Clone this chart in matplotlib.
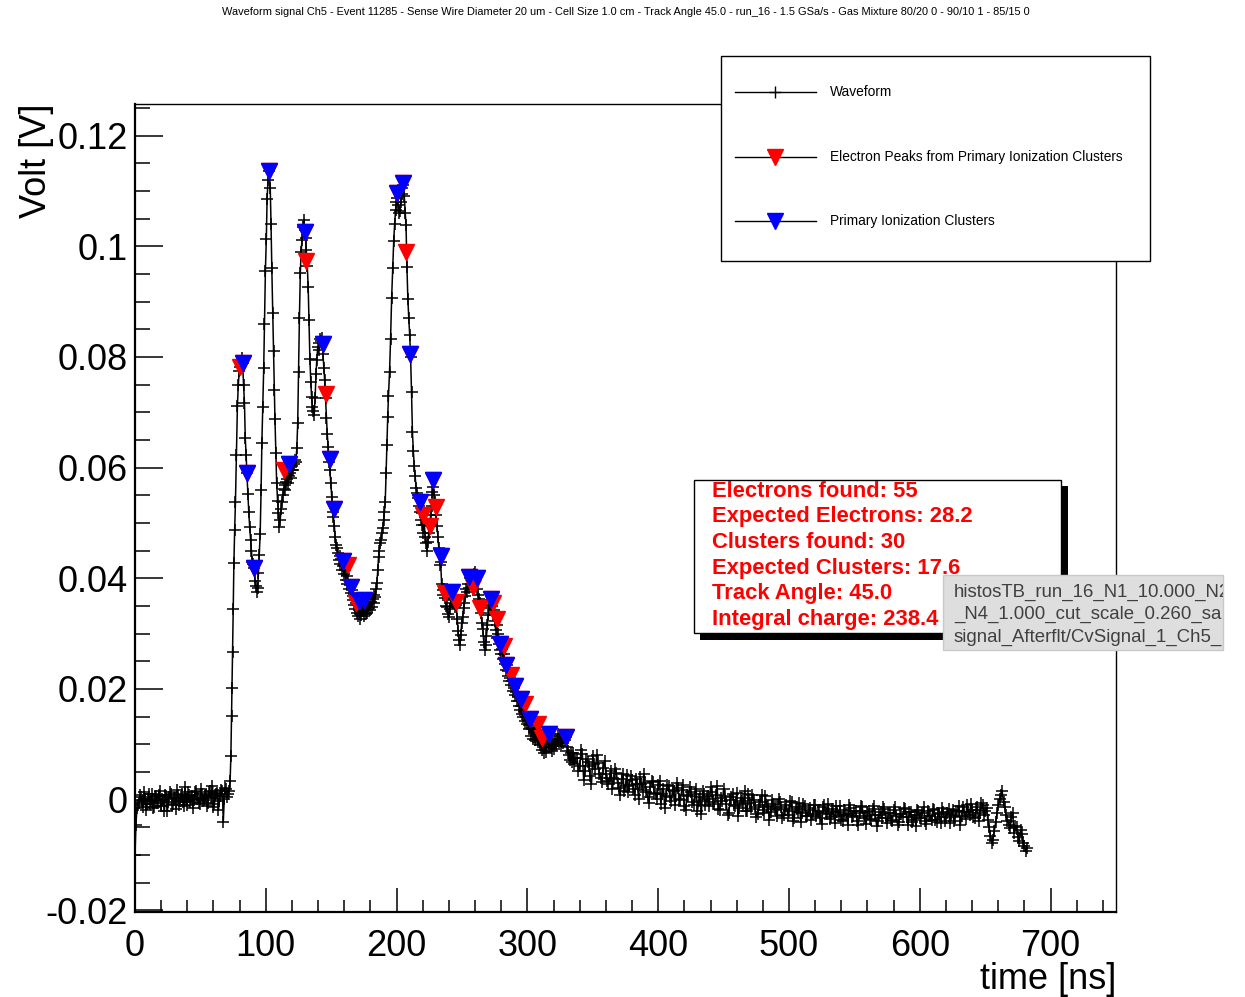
import matplotlib
matplotlib.use("Agg")
import matplotlib.pyplot as plt
import numpy as np
from matplotlib.lines import Line2D
from matplotlib.patches import Rectangle
from matplotlib.ticker import MultipleLocator, FuncFormatter

plt.rcParams["font.family"] = ["Liberation Sans", "DejaVu Sans"]

TITLE = ("Waveform signal Ch5 - Event 11285 - Sense Wire Diameter 20 um - Cell Size 1.0 cm - "
         "Track Angle 45.0 - run_16 - 1.5 GSa/s - Gas Mixture 80/20 0 - 90/10 1 - 85/15 0")

# pre-trigger baseline (mV), first two samples at 0 and 0.7 ns, then every 1.5 ns
base_v = [-10.0, -4.5, -1.5, -0.6, 0.4, -1.3, 0.2, -0.8, 1.1, -0.2, -1.5, 0.5, -0.6, 0.9,
          -1.1, 0.1, -2.0, 0.6, -0.4, 1.3, -0.9, 0.3, -1.7, 0.8, -0.3, 1.0, -1.2, 0.2, 1.4,
          -0.5, 0.7, -0.1, 1.6, 0.3, -0.8, 1.1, 0.0, 0.9, -0.6, 1.5, 0.4, -1.4, 0.8, 1.2,
          -0.2, 1.7, -4.0, 2.1, 0.5]
# baseline samples in between, from 2.25 ns every 1.5 ns
base_mid_v = [-1.0, 0.9, -0.3, 1.4, -1.8, 0.2, -0.7, 1.0, -1.4, 0.6,
              -0.2, 1.5, -1.2, -0.1, 0.8, -2.1, 0.4, 1.1, -0.8, 0.3,
              1.7, -1.0, 0.5, -0.4, 2.2, -0.9, 0.9, 0.1, -1.5, 1.3,
              0.2, -0.6, 1.9, -0.3, 0.6, -1.1, 1.4, 0.3, 2.4, -0.7,
              1.0, -1.8, 0.7, 1.6, 0.2, 2.0, 1.1]

# pulse train (time ns, amplitude mV)
pulse = [
    (72.0, 1.5), (72.7, 3.3), (73.3, 7.8), (73.8, 15.1), (74.2, 20.2), (74.6, 26.6),
    (75.1, 34.5), (75.6, 42.7), (76.2, 48.8), (76.8, 53.8), (77.5, 62.2), (78.3, 71.2),
    (79.0, 75.0), (79.7, 77.5), (80.3, 78.2), (81.0, 79.2), (81.7, 79.8), (82.3, 78.9),
    (83.0, 74.9), (83.7, 71.7), (84.3, 65.3), (85.0, 62.2), (85.5, 59.1), (86.3, 55.3),
    (87.0, 51.9), (87.7, 49.2), (88.4, 46.9), (89.0, 45.0), (89.7, 43.0), (90.4, 42.5),
    (91.0, 41.9), (91.7, 39.5), (92.4, 38.6), (93.0, 37.6), (93.7, 38.2), (94.4, 41.0),
    (95.0, 44.2), (95.7, 48.0), (96.4, 56.0), (97.0, 64.5), (97.7, 71.0), (98.4, 78.0),
    (99.0, 86.0), (99.7, 95.6), (100.4, 101.3), (101.0, 108.6), (101.7, 112.0),
    (102.7, 113.6), (103.4, 110.5), (104.0, 104.0), (104.6, 96.0), (105.3, 88.0),
    (105.9, 81.0), (106.5, 74.0), (107.0, 68.8), (107.7, 62.6), (108.3, 57.3),
    (109.0, 54.0), (109.7, 51.8), (110.3, 49.3), (111.0, 50.5), (111.7, 52.5),
    (112.4, 53.8), (113.0, 55.0), (113.7, 56.1), (114.4, 56.8), (115.0, 56.0),
    (115.7, 57.4), (116.4, 58.0), (117.0, 57.2), (117.7, 58.4), (118.4, 59.0),
    (119.0, 58.2), (119.7, 59.6), (120.4, 60.2), (121.0, 59.5), (121.7, 60.7),
    (122.4, 61.3), (123.0, 61.0), (123.7, 63.5), (124.4, 68.1), (125.0, 77.3),
    (125.7, 87.1), (126.4, 95.2), (127.0, 99.0), (127.7, 101.1), (128.4, 103.5),
    (129.0, 104.8), (129.7, 103.0), (130.4, 101.5), (131.0, 99.3), (131.7, 96.5),
    (132.4, 92.7), (133.0, 86.6), (133.7, 79.7), (134.4, 75.5), (135.0, 72.8),
    (135.7, 71.0), (136.4, 70.2), (137.0, 69.5), (137.7, 72.5), (138.4, 77.0),
    (139.0, 79.5), (139.7, 81.8), (140.4, 81.2), (141.0, 82.6), (141.7, 83.3),
    (142.4, 82.8), (143.0, 83.5), (143.7, 80.5), (144.4, 78.0), (145.0, 75.8),
    (145.7, 72.5), (146.4, 68.9), (147.0, 66.0), (147.7, 63.8), (148.4, 61.0),
    (149.0, 59.6), (149.7, 57.2), (150.4, 54.7), (151.0, 52.0), (151.7, 51.1),
    (152.4, 49.5), (153.0, 47.5), (153.7, 46.0), (154.4, 45.4), (155.0, 44.6),
    (155.7, 43.3), (156.4, 44.0), (157.0, 42.6), (157.7, 43.5), (158.4, 41.5),
    (159.0, 42.2), (159.7, 40.8), (160.4, 41.5), (161.0, 39.7), (161.7, 40.4),
    (162.4, 39.0), (163.0, 39.6), (163.7, 38.0), (164.4, 38.8), (165.0, 37.3),
    (165.7, 37.9), (166.4, 36.1), (167.0, 36.8), (167.7, 35.2), (168.4, 34.5),
    (169.0, 35.6), (169.7, 33.8), (170.4, 33.1), (171.0, 34.4), (171.7, 32.6),
    (172.4, 34.0), (173.0, 33.3), (173.7, 35.0), (174.4, 34.0), (175.0, 33.2),
    (175.7, 34.6), (176.4, 33.5), (177.0, 34.8), (177.7, 33.7), (178.4, 34.5),
    (179.0, 35.5), (179.7, 34.2), (180.4, 35.8), (181.0, 34.9), (181.7, 36.2),
    (182.4, 35.5), (183.0, 37.0), (183.6, 36.7), (184.3, 38.0), (184.9, 39.1),
    (185.6, 41.5), (186.2, 43.9), (186.8, 45.0), (187.4, 46.3), (188.1, 47.0),
    (188.7, 48.1), (189.4, 49.0), (190.0, 50.5), (190.7, 52.0), (191.3, 53.7),
    (192.0, 59.0), (192.6, 64.1), (193.2, 69.2), (193.8, 73.0), (194.6, 77.3),
    (195.4, 83.3), (196.2, 90.6), (197.0, 96.0), (197.8, 101.0), (198.5, 104.0),
    (199.2, 106.5), (199.9, 108.0), (200.5, 108.8), (201.2, 107.5), (201.9, 106.0),
    (202.5, 106.3), (203.2, 108.0), (203.9, 109.5), (204.5, 110.5), (205.2, 111.0),
    (205.9, 109.0), (206.6, 106.0), (207.2, 103.8), (207.9, 96.3), (208.6, 90.5),
    (209.3, 87.0), (210.0, 84.0), (210.7, 80.0), (211.4, 73.7), (212.1, 66.5),
    (212.8, 63.0), (213.5, 60.2), (214.2, 58.4), (214.9, 56.3), (215.6, 55.5),
    (216.3, 54.5), (217.0, 53.0), (217.7, 52.0), (218.4, 50.6), (219.1, 51.8),
    (219.8, 49.6), (220.5, 48.2), (221.2, 49.6), (221.9, 47.5), (222.6, 46.4),
    (223.3, 45.0), (223.9, 46.5), (224.6, 48.2), (225.3, 49.5), (226.0, 51.4),
    (226.7, 53.0), (227.4, 55.6), (228.1, 56.5), (228.8, 55.0), (229.5, 53.8),
    (230.2, 51.4), (230.9, 49.5), (231.6, 47.5), (232.3, 45.4), (233.0, 42.4),
    (233.7, 43.0), (234.4, 39.0), (235.1, 37.8), (235.8, 36.9), (236.5, 38.0),
    (237.2, 36.5), (237.9, 35.0), (238.6, 34.8), (239.3, 33.6), (240.0, 33.0),
    (240.7, 34.5), (241.4, 36.0), (242.1, 36.9), (242.8, 35.5), (243.5, 36.5),
    (244.2, 36.2), (244.9, 34.8), (245.6, 35.2), (246.3, 32.7), (247.0, 30.5),
    (247.7, 28.8), (248.4, 28.0), (249.1, 29.8), (249.8, 32.0), (250.5, 33.0),
    (251.2, 34.6), (251.9, 35.5), (252.6, 36.8), (253.3, 38.0), (254.0, 37.5),
    (254.7, 39.0), (255.4, 38.2), (256.1, 40.0), (256.8, 39.0), (257.5, 40.3),
    (258.2, 38.5), (258.9, 40.8), (259.6, 41.2), (260.3, 39.5), (261.0, 40.0),
    (261.7, 38.0), (262.4, 37.0), (263.1, 36.2), (263.8, 35.5), (264.5, 33.8),
    (265.2, 32.0), (265.9, 30.9), (266.6, 28.5), (267.3, 27.0), (268.0, 28.0),
    (268.7, 29.5), (269.4, 31.5), (270.1, 33.4), (270.8, 34.6), (271.5, 35.2),
    (272.2, 36.0), (272.9, 35.0), (273.6, 33.4), (274.3, 34.2), (275.0, 32.2),
    (275.7, 30.6), (276.4, 31.5), (277.1, 29.2), (277.8, 30.0), (278.5, 28.2),
    (279.2, 27.0), (279.9, 26.3), (280.6, 27.2), (281.3, 25.5), (282.0, 26.4),
    (282.7, 24.6), (283.4, 23.5), (284.1, 24.3), (284.8, 22.4), (285.5, 23.2),
    (286.2, 21.5), (286.9, 22.0), (287.6, 20.7), (288.3, 21.4), (289.0, 19.6),
    (289.7, 20.2), (290.4, 18.9), (291.1, 19.4), (291.8, 17.9), (292.5, 18.6),
    (293.2, 17.0), (293.9, 17.8), (294.6, 16.2), (295.3, 17.0), (296.0, 15.5),
    (296.7, 15.0), (297.4, 15.8), (298.1, 14.3), (298.8, 15.0), (299.5, 13.6),
    (300.2, 14.4), (300.9, 12.8), (301.6, 13.5), (302.3, 12.9), (303.0, 11.5),
    (303.7, 12.8), (304.4, 11.0), (305.1, 12.2), (305.8, 10.8), (306.5, 11.5),
    (307.2, 12.5), (307.9, 10.4), (308.6, 11.3), (309.3, 9.8), (310.0, 10.6),
    (310.7, 10.1), (311.4, 9.0), (312.1, 10.2), (312.8, 8.5), (313.5, 9.6),
    (314.2, 8.7), (314.9, 10.5), (315.6, 11.4), (316.3, 9.5), (317.0, 10.8),
    (317.7, 9.3), (318.4, 10.0), (319.1, 8.8), (319.8, 10.1), (320.5, 9.2),
    (321.2, 11.0), (321.9, 9.8), (322.6, 10.6), (323.3, 11.8), (324.0, 10.4),
    (324.7, 11.5), (325.4, 9.7), (326.1, 10.9), (326.8, 11.6), (327.5, 10.3),
    (328.2, 11.2), (328.9, 10.7), (329.6, 11.3), (330.3, 9.6), (331.0, 8.8),
    (331.7, 8.0), (332.4, 7.2), (333.1, 8.4), (333.8, 6.8), (334.5, 7.6),
    (335.2, 8.5), (335.9, 6.5), (336.6, 7.5),
]

# slow tail (mV), every 2 ns from 338 ns
tail_v = [7.5, 6.0, 8.2, 5.1, 6.8, 4.2, 7.9, 5.5, 6.7, 3.9, 5.8, 4.6, 2.8, 5.2, 3.7, 4.9,
          2.1, 3.8, 1.6, 4.4, 2.7, 3.5, 0.9, 2.8, 4.1, 1.8, 3.0, 0.4, 2.3, 3.2, 1.1, 2.6,
          -0.8, 1.9, 0.6, 2.4, -0.3, 1.5, 3.0, 0.2, 1.7, -1.2, 0.9, 2.2, -0.5, 1.0, -2.1,
          0.4, 1.6, -0.9, 0.7, 2.3, -0.4, 0.8, -1.6, 0.3, 1.9, -0.7, -2.4, 0.5, -0.9, 1.2,
          -1.5, -0.2, 1.5, -2.0, -0.6, 0.9, -1.3, -2.6, -0.4, -1.8, 0.6, -1.1, -2.3, -0.7,
          -1.9, 0.2, -1.4, -2.8, -0.9, -2.0, -0.5, -3.3, -1.7, -0.6, -2.4, -1.2, -3.0, -1.5,
          -2.6, -0.9, -2.2, -3.4, -1.3, -2.5, -0.8, -3.1, -2.0, -1.1, -2.9, -3.6, -1.8, -2.7,
          -1.0, -3.2, -2.1, -3.8, -2.4, -1.3, -3.0, -2.2, -3.5, -1.6, -2.8, -3.9, -2.3, -1.4,
          -3.3, -2.5, -3.7, -1.9, -2.9, -4.0, -2.6, -1.5, -3.2, -2.2, -4.1, -2.7, -1.8, -3.4,
          -2.4, -3.9, -2.0, -3.0, -1.7, -3.6, -2.5, -4.2, -2.2, -3.1, -1.6, -2.8, -3.8, -2.0,
          -1.2, -3.0, -2.3, -1.0, -2.7, -1.8, -3.3, -1.4, -2.5, -0.9, -2.1, -3.6, -6.5, -7.2,
          -4.0, -1.0, 0.8, -0.5, -2.8, -4.5, -3.2, -6.0, -5.0, -7.5, -6.2, -8.4, -8.7]
# tail samples in between, odd ns from 339 ns
tail_mid_v = [5.2, 8.9, 3.6, 7.4, 6.1, 2.9, 6.4, 8.0, 4.7, 3.2,
              6.9, 3.4, 4.0, 1.9, 5.6, 3.0, 0.8, 4.7, 2.4, 1.3,
              4.3, 2.0, 3.7, 0.2, 2.9, 4.6, 1.4, -0.6, 3.4, 1.2,
              0.1, 3.3, 1.0, -1.5, 2.7, 0.4, 1.8, -0.9, 2.1, 0.0,
              2.6, -1.8, 0.6, 1.3, -1.0, 2.0, -0.2, -2.6, 1.1, 0.2,
              -1.2, 1.4, -0.8, 2.5, -1.9, -0.3, 0.7, -2.8, 0.0, 1.0,
              -1.1, -3.0, 0.3, -0.8, -2.1, 1.1, -1.6, -0.1, -3.2, -1.0,
              0.8, -2.5, -1.3, -3.6, 0.0, -1.7, -2.9, -0.4, -3.4, -1.6,
              -2.7, -0.2, -3.9, -1.4, -2.2, -4.1, -0.7, -2.9, -1.9, -3.7,
              -1.0, -3.0, -2.0, -4.4, -0.9, -2.6, -3.5, -1.7, -4.3, -2.2,
              -1.2, -3.9, -2.6, -4.6, -1.5, -3.0, -2.0, -4.5, -1.1, -3.3,
              -4.4, -2.1, -3.6, -1.2, -4.7, -2.8, -3.4, -1.6, -4.2, -2.5,
              -3.9, -1.3, -4.5, -2.6, -3.1, -1.7, -4.6, -2.3, -3.6, -4.8,
              -2.1, -3.3, -1.4, -4.4, -2.9, -3.7, -1.9, -4.0, -2.6, -1.5,
              -3.8, -2.4, -4.3, -1.8, -3.2, -2.1, -4.5, -1.3, -3.5, -2.2,
              -0.8, -3.1, -1.9, -3.9, -0.6, -2.7, -1.5, -5.0, -7.8, -5.6,
              -2.5, 0.2, 1.5, -1.3, -3.9, -5.2, -2.4, -4.8, -6.8, -5.5,
              -7.8, -9.3]

# primary ionization clusters (blue) and extra electron peaks (red)
cluster_t = [82.3, 85.5, 91.0, 102.7, 118.0, 130.1, 143.8, 149.2, 152.4, 159.4, 165.3,
             171.4, 175.4, 200.2, 205.0, 210.4, 217.7, 228.2, 233.7, 242.1, 255.0, 261.3,
             272.1, 279.2, 283.8, 290.7, 295.1, 302.2, 316.2, 329.7]
cluster_v = [78.9, 59.1, 41.9, 113.6, 60.6, 102.6, 82.3, 61.5, 52.5, 43.2, 38.5, 35.9,
             36.1, 109.6, 111.4, 80.5, 53.8, 57.7, 44.0, 37.6, 40.2, 40.1, 36.2, 28.2,
             24.4, 20.5, 18.2, 14.6, 11.9, 11.4]
electron_t = [80.3, 114.0, 130.8, 146.1, 162.6, 168.7, 207.2, 219.9, 225.2, 230.5, 237.2,
              245.2, 258.4, 263.9, 273.9, 277.0, 282.3, 287.4, 298.4, 307.8, 311.1]
electron_v = [78.2, 59.6, 97.4, 73.3, 42.4, 35.6, 98.9, 51.4, 49.5, 52.9, 37.4, 35.8,
              38.5, 34.6, 35.6, 32.7, 27.8, 22.6, 17.3, 13.7, 11.1]

stats_lines = ["Electrons found: 55", "Expected Electrons: 28.2", "Clusters found: 30",
               "Expected Clusters: 17.6", "Track Angle: 45.0", "Integral charge: 238.4"]
tooltip_lines = ["histosTB_run_16_N1_10.000_N2_", "_N4_1.000_cut_scale_0.260_sa",
                 "signal_Afterflt/CvSignal_1_Ch5_"]

# assemble waveform in time order
base_t = [0.0, 0.7] + [1.5 * k for k in range(1, len(base_v) - 1)]
base_mid_t = [2.25 + 1.5 * k for k in range(len(base_mid_v))]
tail_t = [338.0 + 2.0 * k for k in range(len(tail_v))]
tail_mid_t = [339.0 + 2.0 * k for k in range(len(tail_mid_v))]
wave_t = np.array(base_t + base_mid_t + [p[0] for p in pulse] + tail_t + tail_mid_t)
wave_v = np.array(base_v + base_mid_v + [p[1] for p in pulse] + tail_v + tail_mid_v) / 1000.0
order = np.argsort(wave_t, kind="stable")
wave_t, wave_v = wave_t[order], wave_v[order]

W, H = 1245, 997
fig = plt.figure(figsize=(W / 100, H / 100), dpi=100)


def fx(px):
    return px / W


def fy(py):
    return 1 - py / H


ax = fig.add_axes([fx(135), fy(912), fx(1116) - fx(135), fy(104) - fy(912)])

ax.plot(wave_t, wave_v, color="black", lw=1.1, marker="+", ms=9, mew=1.1, zorder=2)
ax.plot(electron_t + cluster_t, np.array(electron_v + cluster_v) / 1000.0, ls="none",
        marker="v", ms=11, color="red", mec="red", zorder=3)
ax.plot(cluster_t, np.array(cluster_v) / 1000.0, ls="none", marker="v", ms=11,
        color="blue", mec="blue", zorder=4)

ax.set_xlim(0, 750)
ax.set_ylim(-0.0203, 0.1257)
ax.xaxis.set_major_locator(MultipleLocator(100))
ax.xaxis.set_minor_locator(MultipleLocator(20))
ax.yaxis.set_major_locator(MultipleLocator(0.02))
ax.yaxis.set_minor_locator(MultipleLocator(0.005))


def root_fmt(val, _):
    val = round(val, 4)
    if val == 0:
        return "0"
    return f"{val:g}"


ax.xaxis.set_major_formatter(FuncFormatter(root_fmt))
ax.yaxis.set_major_formatter(FuncFormatter(root_fmt))
ax.tick_params(which="both", direction="in", top=False, right=False, width=1.1)
ax.tick_params(axis="x", which="major", length=17, labelsize=26, pad=12)
ax.tick_params(axis="x", which="minor", length=8.6)
ax.tick_params(axis="y", which="major", length=20, labelsize=26, pad=5)
ax.tick_params(axis="y", which="minor", length=10.8)
for side in ("left", "bottom"):
    ax.spines[side].set_linewidth(1.6)
for side in ("top", "right"):
    ax.spines[side].set_linewidth(1.0)

fig.text(fx(626), fy(12), TITLE, ha="center", va="center", fontsize=7.9)
fig.text(fx(37), fy(104), "Volt [V]", rotation=90, ha="center", va="top", fontsize=26)
fig.text(fx(1116), fy(989), "time [ns]", ha="right", va="baseline", fontsize=26)

# legend box
fig.add_artist(Rectangle((fx(721), fy(261)), fx(1150) - fx(721), fy(56) - fy(261),
                         transform=fig.transFigure, fc="white", ec="black", lw=1.0, zorder=5))
legend_rows = [
    (92, dict(marker="+", ms=9, mew=1.0, color="black"), "Waveform"),
    (157, dict(marker="v", ms=12, color="red"), "Electron Peaks from Primary Ionization Clusters"),
    (221, dict(marker="v", ms=12, color="blue"), "Primary Ionization Clusters"),
]
for row_y, style, label in legend_rows:
    fig.add_artist(Line2D([fx(735), fx(816)], [fy(row_y)] * 2, transform=fig.transFigure,
                          color="black", lw=1.0, zorder=6))
    fig.add_artist(Line2D([fx(775)], [fy(row_y)], transform=fig.transFigure, ls="none",
                          zorder=7, **style))
    fig.text(fx(830), fy(row_y), label, ha="left", va="center", fontsize=9.9, zorder=7)

# statistics box with drop shadow
fig.add_artist(Rectangle((fx(700), fy(640)), fx(1068) - fx(700), fy(486) - fy(640),
                         transform=fig.transFigure, fc="black", ec="black", lw=0, zorder=8))
fig.add_artist(Rectangle((fx(694), fy(633)), fx(1061) - fx(694), fy(480) - fy(633),
                         transform=fig.transFigure, fc="white", ec="black", lw=1.0, zorder=9))
for i, line in enumerate(stats_lines):
    fig.text(fx(712), fy(491 + 25.7 * i), line, ha="left", va="center", fontsize=15.8,
             fontweight="bold", color="red", zorder=10)

# hover tooltip
tip = Rectangle((fx(943), fy(650)), fx(1223) - fx(943), fy(575) - fy(650),
                transform=fig.transFigure, fc="#dedede", ec="#c9c9c9", lw=1.0, zorder=11)
fig.add_artist(tip)
for i, line in enumerate(tooltip_lines):
    txt = fig.text(fx(954), fy(592 + 22.5 * i), line, ha="left", va="center",
                   fontsize=13.4, color="#404040", zorder=12)
    txt.set_clip_path(tip)

fig.savefig("out.png", dpi=100)
